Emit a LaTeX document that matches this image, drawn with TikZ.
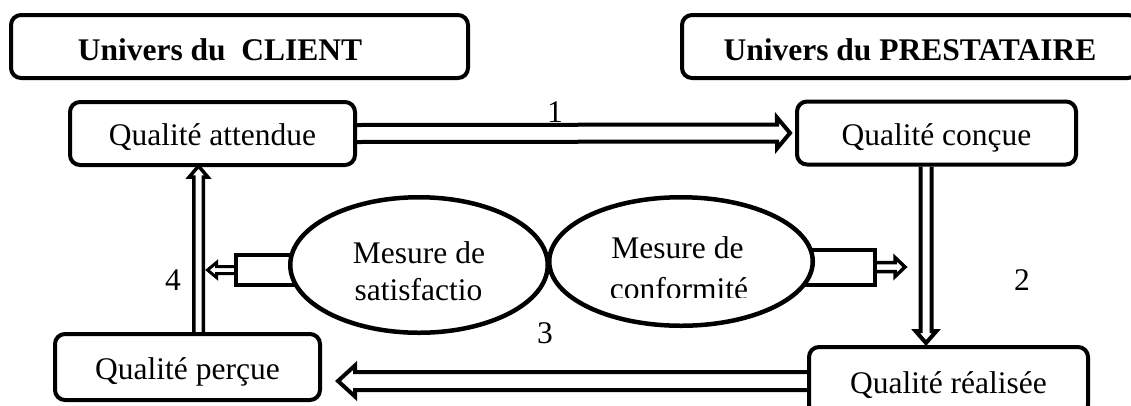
\documentclass[tikz,border=0pt]{standalone}
\usepackage{fontspec}
\setmainfont{Liberation Serif}
\usetikzlibrary{arrows.meta,shapes.geometric,calc}
% #1 style, #2 start, #3 end, #4 half shaft width, #5 half head width, #6 head length
\newcommand\blockarrow[6]{%
  \draw[#1] let \p1=(#2), \p2=(#3), \n1={veclen(\x2-\x1,\y2-\y1)},
    \n2={(\x2-\x1)/\n1}, \n3={(\y2-\y1)/\n1} in
    ({\x1-\n3*#4},{\y1+\n2*#4})
    -- ({\x2-\n2*#6-\n3*#4},{\y2-\n3*#6+\n2*#4})
    -- ({\x2-\n2*#6-\n3*#5},{\y2-\n3*#6+\n2*#5})
    -- (\p2)
    -- ({\x2-\n2*#6+\n3*#5},{\y2-\n3*#6-\n2*#5})
    -- ({\x2-\n2*#6+\n3*#4},{\y2-\n3*#6-\n2*#4})
    -- ({\x1+\n3*#4},{\y1-\n2*#4});}
\begin{document}
\begin{tikzpicture}[x=1pt,y=-1pt,
  every node/.style={font=\fontsize{31.5}{37}\selectfont, inner sep=0pt},
  box/.style={draw, line width=4pt, rounded corners=10pt, fill=white,
    text height=28pt, text depth=4pt},
  titlebox/.style={box, text height=29pt, text depth=2pt,
    font=\fontsize{31.5}{37}\selectfont\bfseries},
  oval/.style={draw, ellipse, line width=4.5pt, fill=white},
  arr/.style={line width=4pt, line join=miter},
  tailbox/.style={draw, line width=4pt, fill=white},
  num/.style={anchor=base}]
\useasboundingbox (0,0) rectangle (1131,405);

% title boxes
\node[titlebox, minimum width=457pt, minimum height=63pt] (client) at (239.5,46.5) {};
\node[anchor=base, font=\fontsize{31.5}{37}\selectfont\bfseries] (clienttxt) at (220,60) {Univers du~~CLIENT};
\node[titlebox, minimum width=456pt, minimum height=63pt] (presta) at (910,46.5) {Univers du PRESTATAIRE};

% quality boxes
\node[box, minimum width=285pt, minimum height=63pt] (att) at (212.5,133.5) {Qualité attendue};
\node[box, minimum width=279pt, minimum height=63pt] (con) at (936.5,133) {Qualité conçue};
\node[box, minimum width=265pt, minimum height=66pt] (perc) at (187.5,367) {Qualité perçue};
\node[box, minimum width=279pt, minimum height=68pt] (real) at (948.5,381) {Qualité réalisée};

% guide coordinates
\coordinate (x4) at (198.5,0);
\coordinate (x2) at (926,0);

% main arrows
\blockarrow{arr}{att.east}{[xshift=-5pt]con.west}{8.5}{15.5}{13}
\blockarrow{arr}{x2 |- con.south}{[yshift=2pt]x2 |- real.north}{5.5}{10.5}{12}
\blockarrow{arr}{real.west}{[xshift=16pt]perc.east |- real.west}{9}{15.5}{17}
\blockarrow{arr, line width=3.5pt}{x4 |- perc.north}{[yshift=1pt]x4 |- att.south}{4.75}{9.25}{11}

% small arrows with tails
\draw[tailbox] (236,255) rectangle (305,285);
\coordinate (tl) at (236,270);
\coordinate (tlend) at (207.5,270);
\blockarrow{arr, line width=3pt}{tl}{tlend}{3.5}{7.5}{9}
\draw[tailbox] (795,250) rectangle (875,285);
\coordinate (tr) at (875,267);
\coordinate (trend) at (905,267);
\blockarrow{arr, line width=3.5pt}{tr}{trend}{4.5}{9.5}{10}

% ellipses
\node[oval, minimum width=257.5pt, minimum height=135.5pt] (sat) at (419,265) {};
\node[oval, minimum width=263.5pt, minimum height=128.5pt] (conf) at (681,261.5) {};
\node[anchor=base] (sat1) at (419,263) {Mesure de};
\node[anchor=base] (sat2) at (418.5,300) {satisfactio};
\node[anchor=base] (conf1) at (677.5,258) {Mesure de};
\begin{scope}
  \clip (590,200) rectangle (770,297);
  \node[anchor=base] (conf2) at (679,299) {conformité};
\end{scope}

% numbers
\node[num] (n1) at (555,122) {1};
\node[num] (n2) at (1022,290) {2};
\node[num] (n3) at (545,343) {3};
\node[num] (n4) at (173,290) {4};
\end{tikzpicture}
\end{document}
